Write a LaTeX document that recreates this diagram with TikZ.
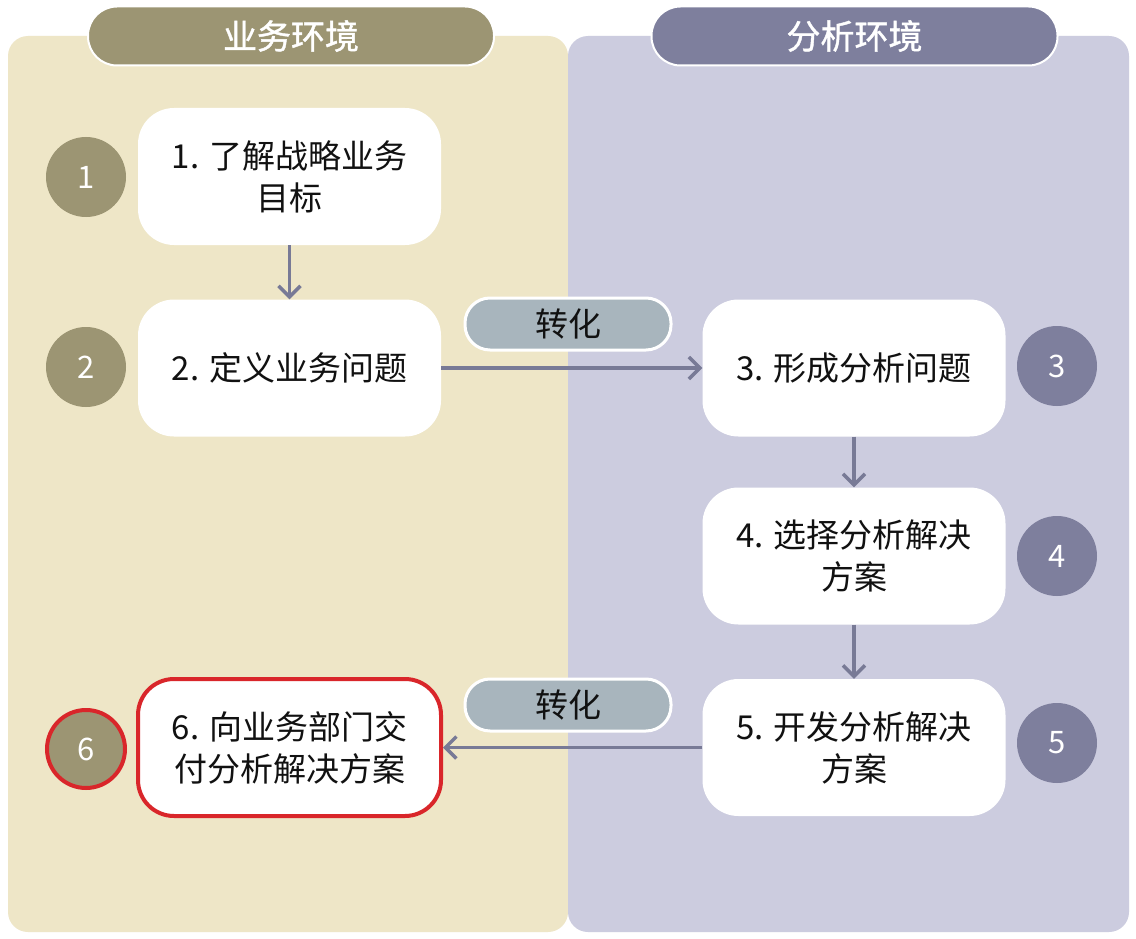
\documentclass[tikz,border=0pt]{standalone}
\usepackage{fontspec}
\setmainfont{Noto Sans CJK SC}
\newfontfamily\headfont[FakeBold=1.2]{Noto Sans CJK SC}
\usetikzlibrary{arrows.meta}
\definecolor{bizbg}{HTML}{EEE6C7}
\definecolor{anabg}{HTML}{CCCCDF}
\definecolor{bizhead}{HTML}{9C9573}
\definecolor{anahead}{HTML}{7E7F9D}
\definecolor{badgefill}{HTML}{A8B5BD}
\definecolor{arrowc}{HTML}{787A96}
\definecolor{hired}{HTML}{D9262A}
\definecolor{inkc}{HTML}{111111}
\begin{document}
\begin{tikzpicture}[x=1pt,y=-1pt,
 panelbox/.style={rounded corners=20pt, minimum width=560pt, minimum height=896pt, inner sep=0pt},
 head/.style={draw=white, line width=2pt, rounded corners=29pt, minimum width=406pt, minimum height=59pt, text=white, font=\fontsize{34}{40}\headfont, inner sep=0pt},
 stepbox/.style={fill=white, rounded corners=36pt, minimum width=303pt, minimum height=137pt, align=center, text=inkc, font=\fontsize{33}{42}\selectfont, inner sep=0pt},
 numc/.style={circle, minimum size=80pt, inner sep=0pt, text=white, font=\fontsize{31}{34}\selectfont},
 badge/.style={fill=badgefill, draw=white, line width=3pt, rounded corners=25pt, minimum width=206pt, minimum height=52pt, text=inkc, font=\fontsize{33}{40}\selectfont, inner sep=0pt},
 flow/.style={draw=arrowc, line width=3.5pt, -{Straight Barb[length=11pt,width=22pt,line width=3.5pt]}},
 hl/.style={draw=hired, line width=4pt}
]
\useasboundingbox[fill=white] (0,0) rectangle (1136,939);
% panels
\node[panelbox, fill=bizbg] (bizpanel) at (288,484) {};
\node[panelbox, fill=anabg, minimum width=561pt] (anapanel) at (848.5,484) {};
% headers
\node[head, fill=bizhead] (bizhead) at (291,36) {业务环境};
\node[head, fill=anahead] (anahead) at (854.5,36) {分析环境};
% steps
\node[stepbox] (s1) at (289.5,176.5) {1. 了解战略业务\\目标};
\node[stepbox] (s2) at (289.5,368) {2. 定义业务问题};
\node[stepbox] (s3) at (854,368) {3. 形成分析问题};
\node[stepbox] (s4) at (854,556) {4. 选择分析解决\\方案};
\node[stepbox] (s5) at (854,747.5) {5. 开发分析解决\\方案};
\node[stepbox, hl] (s6) at (289.5,747.5) {6. 向业务部门交\\付分析解决方案};
% number circles
\node[numc, fill=bizhead] (c1) at (86,177) {1};
\node[numc, fill=bizhead] (c2) at (86,367) {2};
\node[numc, fill=anahead] (c3) at (1057,366) {3};
\node[numc, fill=anahead] (c4) at (1057,556) {4};
\node[numc, fill=anahead] (c5) at (1057,743) {5};
\node[numc, fill=bizhead, hl, minimum size=78pt] (c6) at (86,749) {6};
% badges
\node[badge] (b1) at (568,324) {转化};
\node[badge] (b2) at (568,705) {转化};
% connectors
\draw[flow] (s1) -- (s2);
\draw[flow] (s2) -- (s3);
\draw[flow] (s3) -- (s4);
\draw[flow] (s4) -- (s5);
\draw[flow] (s5) -- (s6);
\end{tikzpicture}
\end{document}
